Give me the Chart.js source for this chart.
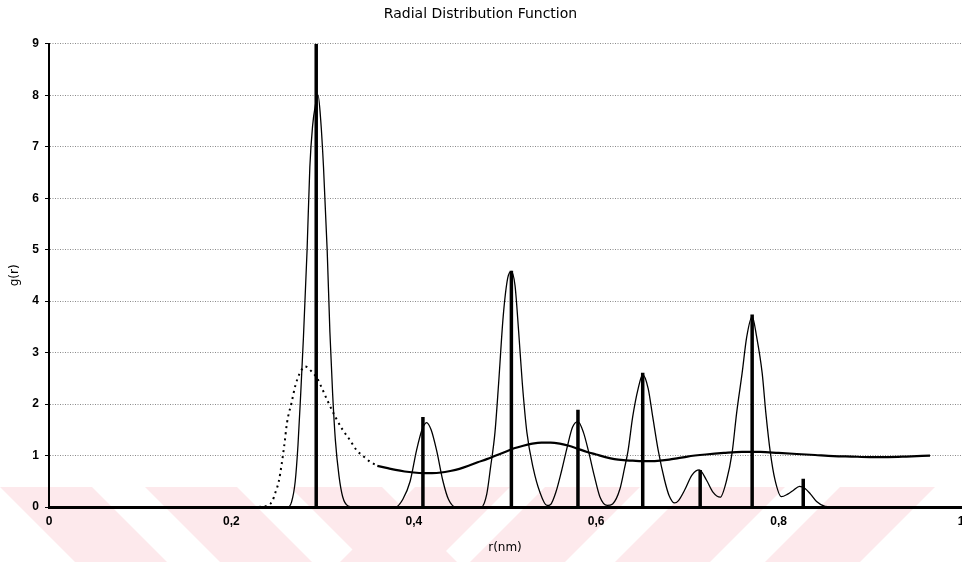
<!DOCTYPE html>
<html>
<head>
<meta charset="utf-8">
<script src="https://cdn.jsdelivr.net/npm/chart.js@4.4.1/dist/chart.umd.min.js"></script>
<style>
  html, body { margin: 0; padding: 0; background: #fff; overflow: hidden; }
  #wrap { width: 975px; height: 562px; }
</style>
</head>
<body>
<div id="wrap"><canvas id="rdf" width="975" height="562"></canvas></div>
<script>
// thick vertical sticks (positions r, heights g)
const stickR = [0.293, 0.410, 0.507, 0.580, 0.651, 0.714, 0.771, 0.827];
const stickG = [9.0, 1.75, 4.59, 1.89, 2.61, 0.72, 3.74, 0.55];

// thin line with sharp peaks
const peakR = [0, 0.262, 0.266, 0.270, 0.273, 0.276, 0.279, 0.283, 0.286, 0.289, 0.292, 0.295, 0.298, 0.301, 0.305, 0.308, 0.311, 0.314, 0.318, 0.322, 0.328, 0.335,
  0.380, 0.388, 0.396, 0.403, 0.409, 0.414, 0.419, 0.425, 0.432, 0.438, 0.446,
  0.474, 0.480, 0.484, 0.489, 0.493, 0.498, 0.503, 0.507, 0.511, 0.515, 0.519, 0.524, 0.531, 0.538, 0.546,
  0.550, 0.556, 0.562, 0.568, 0.574, 0.580, 0.586, 0.592, 0.598, 0.604, 0.612, 0.618,
  0.626, 0.631, 0.635, 0.640, 0.646, 0.651, 0.657, 0.662, 0.668, 0.675, 0.680, 0.686,
  0.690, 0.697, 0.705, 0.713, 0.721, 0.728, 0.736,
  0.743, 0.749, 0.754, 0.760, 0.765, 0.771, 0.776, 0.782, 0.786, 0.791, 0.796, 0.803,
  0.810, 0.816, 0.823, 0.829, 0.835, 0.842, 0.851, 0.860];
const peakG = [0, 0, 0.1, 0.5, 1.2, 2.2, 3.3, 5.0, 6.6, 7.4, 7.8, 8.0, 7.5, 6.6, 5.0, 3.4, 2.2, 1.3, 0.6, 0.2, 0.02, 0,
  0, 0.15, 0.5, 1.1, 1.5, 1.64, 1.5, 1.1, 0.5, 0.15, 0,
  0, 0.25, 0.75, 1.45, 2.4, 3.7, 4.45, 4.58, 4.3, 3.4, 2.4, 1.45, 0.75, 0.3, 0.03,
  0.05, 0.3, 0.7, 1.15, 1.55, 1.66, 1.45, 1.05, 0.6, 0.2, 0.03, 0.06,
  0.35, 0.75, 1.1, 1.75, 2.3, 2.57, 2.3, 1.75, 1.1, 0.52, 0.22, 0.08,
  0.12, 0.33, 0.62, 0.72, 0.52, 0.29, 0.19,
  0.52, 1.05, 1.83, 2.6, 3.3, 3.7, 3.3, 2.6, 1.83, 1.05, 0.53, 0.2,
  0.25, 0.32, 0.4, 0.36, 0.25, 0.1, 0.01, 0];

// dotted curve (first shell)
const dotR = [0.230, 0.240, 0.245, 0.248, 0.252, 0.255, 0.258, 0.261, 0.266, 0.270, 0.275, 0.281, 0.287, 0.294, 0.300, 0.305, 0.314, 0.322, 0.330, 0.337, 0.345, 0.352, 0.360];
const dotG = [0, 0.03, 0.12, 0.27, 0.5, 0.82, 1.2, 1.64, 2.03, 2.35, 2.6, 2.73, 2.65, 2.5, 2.28, 2.08, 1.75, 1.5, 1.3, 1.11, 0.98, 0.88, 0.80];

// smooth curve around 1
const smoothR = [0.36, 0.37, 0.38, 0.39, 0.40, 0.41, 0.42, 0.43, 0.44, 0.45, 0.46, 0.47, 0.48, 0.49, 0.50, 0.51, 0.52, 0.53, 0.54, 0.55, 0.56, 0.57, 0.58, 0.59, 0.60,
  0.61, 0.62, 0.63, 0.64, 0.65, 0.66, 0.67, 0.68, 0.69, 0.70, 0.72, 0.74, 0.76, 0.78, 0.80, 0.82, 0.84, 0.86, 0.88, 0.90, 0.92, 0.94, 0.966];
const smoothG = [0.80, 0.76, 0.72, 0.69, 0.67, 0.66, 0.66, 0.67, 0.70, 0.74, 0.80, 0.87, 0.93, 1.00, 1.07, 1.14, 1.19, 1.23, 1.25, 1.25, 1.23, 1.19, 1.13, 1.07, 1.02,
  0.97, 0.93, 0.91, 0.90, 0.89, 0.89, 0.90, 0.92, 0.95, 0.98, 1.02, 1.05, 1.07, 1.07, 1.05, 1.03, 1.01, 0.99, 0.98, 0.97, 0.97, 0.98, 1.0];

const xTicks = [0, 0.2, 0.4, 0.6, 0.8, 1];

const pts = (xs, ys) => xs.map((x, i) => ({ x: x, y: ys[i] }));

// each stick goes up and back down, separated by a gap
const stickPts = [];
stickR.forEach((r, i) => {
    stickPts.push({ x: r, y: 0 }, { x: r, y: stickG[i] }, { x: r, y: null });
});

// pale pink watermark stripes behind the chart
const watermark = {
    id: 'watermark',
    beforeDraw(chart) {
        const c = chart.ctx;
        const top = 487, bot = 562, h = bot - top;
        c.save();
        c.fillStyle = '#fde9ec';
        [0, 145, 290].forEach(x0 => {
            c.beginPath();
            c.moveTo(x0, top); c.lineTo(x0 + 92, top);
            c.lineTo(x0 + 92 + h, bot); c.lineTo(x0 + h, bot);
            c.closePath(); c.fill();
        });
        [415, 545, 690, 840].forEach(x0 => {
            c.beginPath();
            c.moveTo(x0, top); c.lineTo(x0 + 95, top);
            c.lineTo(x0 + 95 - h, bot); c.lineTo(x0 - h, bot);
            c.closePath(); c.fill();
        });
        c.restore();
    }
};

const fam = '"DejaVu Sans", "Liberation Sans", sans-serif';
const tickFont = { family: '"Liberation Sans", Arial, sans-serif', size: 12, weight: 'bold' };

new Chart(document.getElementById('rdf').getContext('2d'), {
    type: 'line',
    data: {
        datasets: [
            {
                label: 'sticks',
                data: stickPts,
                borderColor: '#000',
                borderWidth: 3.5,
                pointRadius: 0,
                spanGaps: false,
                tension: 0
            },
            {
                label: 'peaks',
                data: pts(peakR, peakG),
                borderColor: '#000',
                borderWidth: 1.3,
                pointRadius: 0,
                cubicInterpolationMode: 'monotone'
            },
            {
                label: 'dotted',
                data: pts(dotR, dotG),
                borderColor: '#000',
                borderWidth: 2,
                borderDash: [2, 4],
                pointRadius: 0,
                cubicInterpolationMode: 'monotone'
            },
            {
                label: 'smooth',
                data: pts(smoothR, smoothG),
                borderColor: '#000',
                borderWidth: 2.2,
                pointRadius: 0,
                cubicInterpolationMode: 'monotone'
            }
        ]
    },
    options: {
        responsive: false,
        animation: false,
        layout: { padding: { left: 0, right: 14, top: 0, bottom: 0 } },
        plugins: {
            legend: { display: false },
            tooltip: { enabled: false },
            title: {
                display: true,
                text: 'Radial Distribution Function',
                color: '#000',
                font: { family: fam, size: 14, weight: 'normal' },
                padding: { top: 6, bottom: 21 }
            }
        },
        scales: {
            x: {
                type: 'linear',
                min: 0,
                max: 1,
                afterBuildTicks: (s) => { s.ticks = xTicks.map(v => ({ value: v })); },
                afterFit: (s) => { s.height = 55; },
                ticks: {
                    color: '#000',
                    font: tickFont,
                    padding: 3,
                    maxRotation: 0,
                    callback: (v) => String(Math.round(v * 10) / 10).replace('.', ',')
                },
                grid: { display: false, drawTicks: true, tickLength: 4, tickColor: '#000' },
                border: { display: true, color: '#000', width: 3 },
                title: {
                    display: true,
                    text: 'r(nm)',
                    color: '#000',
                    font: { family: fam, size: 12, weight: 'normal' },
                    padding: { top: 4, bottom: 7 }
                }
            },
            y: {
                min: 0,
                max: 9,
                afterFit: (s) => { s.width = 49; },
                ticks: { stepSize: 1, color: '#000', font: tickFont, padding: 6 },
                grid: {
                    color: '#8a8a8a',
                    lineWidth: 1,
                    tickLength: 4,
                    tickColor: '#000',
                    drawTicks: true
                },
                border: { display: true, color: '#000', width: 2, dash: [1, 1.5] },
                title: {
                    display: true,
                    text: 'g(r)',
                    color: '#000',
                    font: { family: fam, size: 12, weight: 'normal' },
                    padding: { top: 8, bottom: 0 }
                }
            }
        }
    },
    plugins: [watermark]
});
</script>
</body>
</html>
